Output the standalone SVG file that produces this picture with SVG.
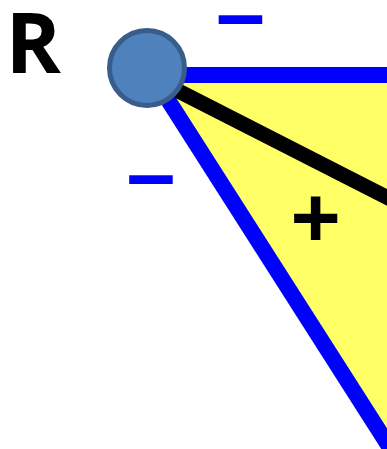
<svg xmlns="http://www.w3.org/2000/svg" width="387" height="449" viewBox="0 0 387 449">
  <style>
    .blue { stroke: #0000FF; stroke-width: 16; fill: none; }
    .black { stroke: #000000; stroke-width: 15; fill: none; }
    .sign { font-family: "Liberation Sans", Arial, sans-serif; font-weight: bold; text-anchor: middle; }
    .minus { fill: #0000FF; font-size: 88px; }
    .plus { fill: #000000; font-size: 86px; }
  </style>
  <rect width="387" height="449" fill="#FFFFFF"/>
  <g id="region">
    <polygon points="147,75 400,75 400,462" fill="#FFFF66"/>
  </g>
  <g id="connectors">
    <line class="blue" x1="147" y1="75" x2="400" y2="75"/>
    <line class="blue" x1="147" y1="67" x2="400" y2="463.5"/>
    <line class="black" x1="147" y1="75" x2="400" y2="204"/>
  </g>
  <g id="node-R">
    <circle cx="147" cy="68" r="37.5" fill="#4F81BD" stroke="#385D8A" stroke-width="5"/>
    <text x="5.5" y="73" font-family="'Open Sans', 'Liberation Sans', sans-serif" font-weight="bold" font-size="84">R</text>
  </g>
  <g id="labels">
    <text class="sign minus" x="240.5" y="42.5">–</text>
    <text class="sign minus" x="151" y="202.5">–</text>
    <text class="sign plus" x="315.5" y="247">+</text>
  </g>
</svg>
